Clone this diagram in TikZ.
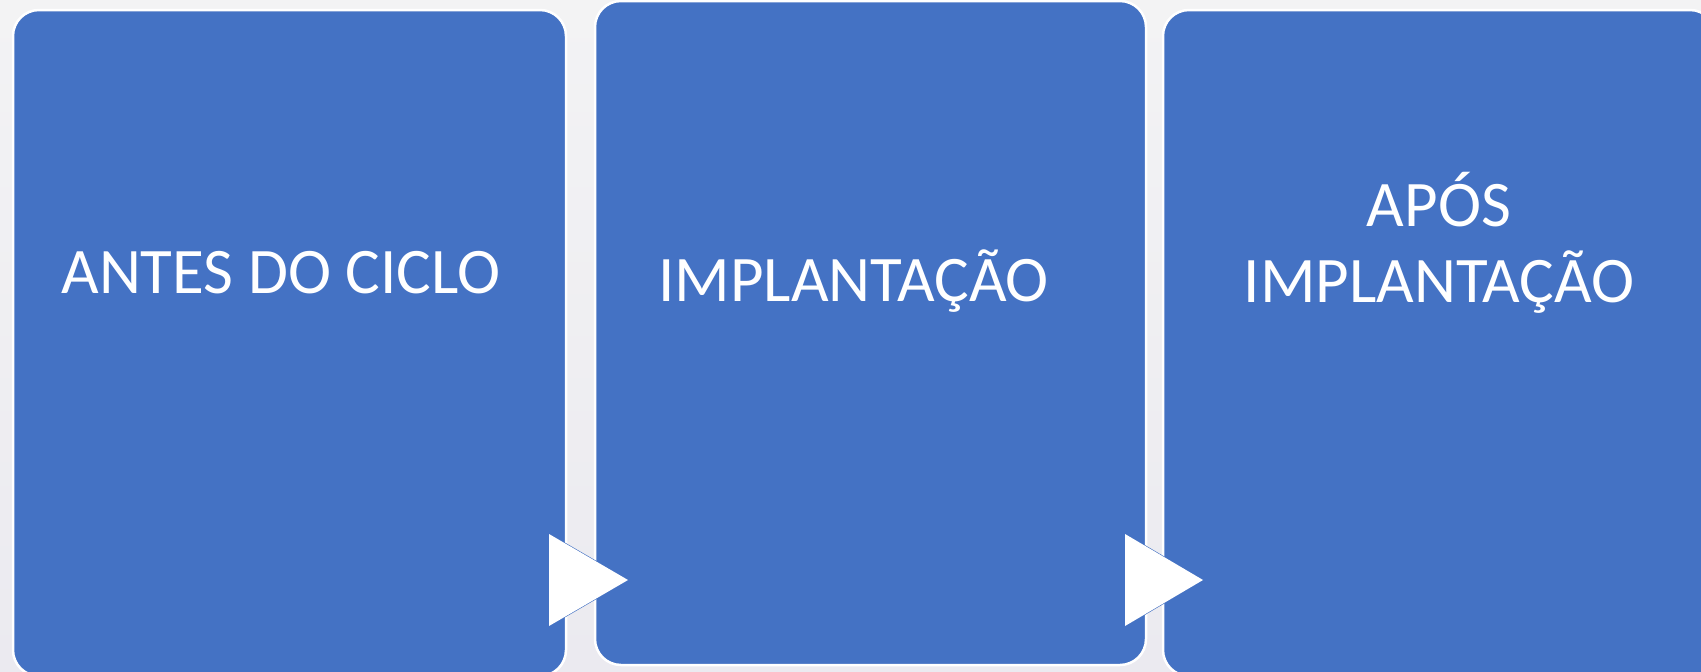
\documentclass[tikz,border=0pt]{standalone}
\usepackage{fontspec}
\setmainfont{Carlito}
\definecolor{boxblue}{HTML}{4472C4}
\definecolor{bgtop}{HTML}{F3F3F4}
\definecolor{bgbot}{HTML}{EBEAF0}
\tikzset{
  stagebox/.style={draw=white, line width=2.5pt, fill=boxblue, rounded corners=26pt,
    inner sep=0pt, outer sep=0pt},
  stagetext/.style={text=white, font=\fontsize{65}{76}\selectfont, inner sep=0pt, align=center},
  arrowhead/.style={fill=white, draw=boxblue, line width=1.2pt, line join=miter}
}
\begin{document}
\begin{tikzpicture}[x=1pt, y=-1pt]
\useasboundingbox (0,0) rectangle (1701,672);
\shade[top color=bgtop, bottom color=bgbot] (0,0) rectangle (1701,672);
% boxes
\node[stagebox, minimum width=553pt, minimum height=666pt] (b1) at (289.5,343) {};
\node[stagebox, minimum width=551pt, minimum height=664pt] (b2) at (870.5,333) {};
\node[stagebox, minimum width=553pt, minimum height=666pt] (b3) at (1439.5,343) {};
% texts
\node[stagetext, anchor=base] (t1) at (281,293) {ANTES DO CICLO};
\node[stagetext, anchor=base] (t2) at (853.5,301) {IMPLANTAÇÃO};
\node[stagetext, anchor=north] (t3) at (1439,172) {APÓS\\IMPLANTAÇÃO};
% arrowheads
\coordinate (a1) at (549,534);
\coordinate (a2) at (549,626);
\coordinate (a3) at (628,580);
\coordinate (c1) at (1125,534);
\coordinate (c2) at (1125,626);
\coordinate (c3) at (1203,580);
\filldraw[arrowhead] (a1) -- (a3) -- (a2) -- cycle;
\filldraw[arrowhead] (c1) -- (c3) -- (c2) -- cycle;
\fill[white] (a1) -- (a3) -- (a2) -- cycle;
\fill[white] (c1) -- (c3) -- (c2) -- cycle;
\end{tikzpicture}
\end{document}
